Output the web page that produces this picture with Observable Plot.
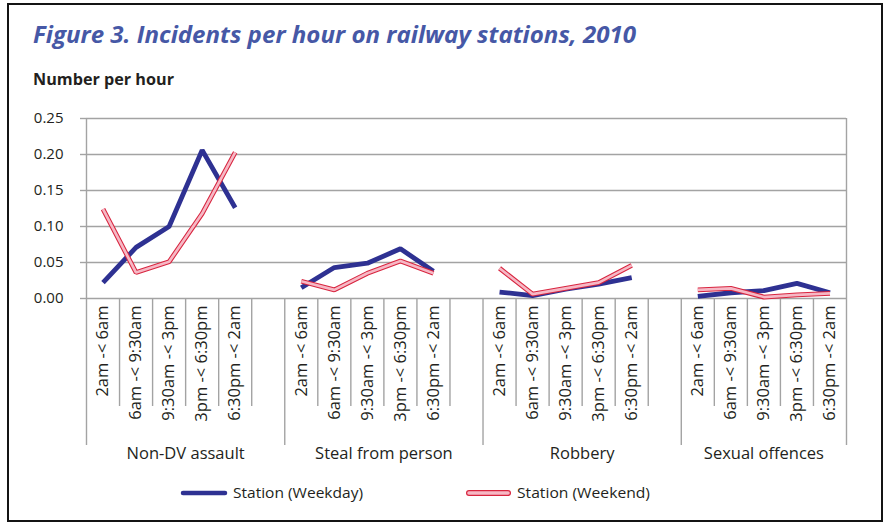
<!DOCTYPE html>
<html>
<head>
<meta charset="utf-8">
<script src="https://cdn.jsdelivr.net/npm/d3@7"></script>
<script src="https://cdn.jsdelivr.net/npm/@observablehq/plot@0.6"></script>
<style>
  html, body { margin: 0; padding: 0; background: #fff; }
  #page { position: relative; width: 886px; height: 524px; overflow: hidden; font-family: "Open Sans", sans-serif; color: #231f20; }
  #frame { position: absolute; left: 7px; top: 3px; width: 876px; height: 519px; box-sizing: border-box; border: 2.5px solid #141414; }
  .fit { position: absolute; white-space: nowrap; transform-origin: 0 50%; line-height: 1; }
  #title { left: 33px; top: 22px; font-size: 24px; font-weight: 700; font-style: italic; color: #4658a6; }
  #subtitle { left: 33px; top: 71px; font-size: 16px; font-weight: 700; }
  #chart { position: absolute; left: 0; top: 100px; }
  .lt { position: absolute; font-size: 15px; white-space: nowrap; line-height: 1; transform-origin: 0 50%; }
</style>
</head>
<body>
<div id="page">
  <div id="frame"></div>
  <div id="title" class="fit" data-w="603">Figure 3. Incidents per hour on railway stations, 2010</div>
  <div id="subtitle" class="fit" data-w="141">Number per hour</div>
  <div id="chart"></div>
  <svg style="position:absolute;left:0;top:480px" width="886" height="26">
    <line x1="183" x2="225" y1="13" y2="13" stroke="#2e3192" stroke-width="4.5" stroke-linecap="round"></line>
    <line x1="469" x2="508" y1="13" y2="13" stroke="#d8253f" stroke-width="6" stroke-linecap="round"></line>
    <line x1="469" x2="508" y1="13" y2="13" stroke="#f6b8c5" stroke-width="3.6" stroke-linecap="round"></line>
  </svg>
  <div id="leg1" class="lt fit" data-w="130" style="left:233px;top:485px">Station (Weekday)</div>
  <div id="leg2" class="lt fit" data-w="133" style="left:517px;top:485px">Station (Weekend)</div>
</div>
<script>
// ---- data ----
const groups = ["Non-DV assault", "Steal from person", "Robbery", "Sexual offences"];
const bands = ["2am -< 6am", "6am -< 9:30am", "9:30am -< 3pm", "3pm -< 6:30pm", "6:30pm -< 2am"];
const seriesNames = ["Station (Weekday)", "Station (Weekend)"];
const nonDVWeekday = [0.022, 0.071, 0.100, 0.206, 0.126];
const nonDVWeekend = [0.124, 0.036, 0.051, 0.118, 0.203];
const stealWeekday = [0.015, 0.043, 0.049, 0.069, 0.038];
const stealWeekend = [0.024, 0.012, 0.035, 0.052, 0.035];
const robberyWeekday = [0.009, 0.004, 0.013, 0.020, 0.029];
const robberyWeekend = [0.042, 0.006, 0.014, 0.022, 0.046];
const sexualWeekday = [0.003, 0.008, 0.011, 0.021, 0.008];
const sexualWeekend = [0.012, 0.014, 0.002, 0.005, 0.007];
const yTicks = [0, 0.05, 0.10, 0.15, 0.20, 0.25];

// ---- build table ----
const weekdayByGroup = [nonDVWeekday, stealWeekday, robberyWeekday, sexualWeekday];
const weekendByGroup = [nonDVWeekend, stealWeekend, robberyWeekend, sexualWeekend];
const slotsPerGroup = bands.length + 1;
const nSlots = groups.length * slotsPerGroup - 1;
const rows = [];
groups.forEach((g, gi) => {
  bands.forEach((b, bi) => {
    const slot = gi * slotsPerGroup + bi + 0.5;
    rows.push({group: g, band: b, slot, series: seriesNames[0], value: weekdayByGroup[gi][bi]});
    rows.push({group: g, band: b, slot, series: seriesNames[1], value: weekendByGroup[gi][bi]});
  });
});
const weekdayRows = rows.filter(d => d.series === seriesNames[0]);
const weekendRows = rows.filter(d => d.series === seriesNames[1]);
const groupLabels = groups.map((g, gi) => {
  const start = gi * slotsPerGroup;
  const end = Math.min(start + slotsPerGroup, nSlots);
  return {group: g, center: (start + end) / 2};
});
const outerBounds = [0, nSlots];
const groupBounds = groups.slice(1).map((g, gi) => (gi + 1) * slotsPerGroup);
const innerBounds = d3.range(nSlots + 1).filter(i => i % slotsPerGroup !== 0 && i !== nSlots);

const grid = "#a3a3a3";
const plot = Plot.plot({
  width: 886,
  height: 370,
  marginLeft: 86,
  marginRight: 40,
  marginTop: 18,
  marginBottom: 172,
  style: {fontFamily: "'Open Sans', sans-serif", fontSize: "15px", color: "#231f20", background: "transparent", overflow: "visible"},
  x: {type: "linear", domain: [0, nSlots], axis: null},
  y: {domain: [0, 0.25], axis: null, label: null},
  marks: [
    Plot.ruleY(yTicks, {stroke: grid, strokeWidth: 1.4}),
    Plot.axisY({ticks: yTicks, label: null, tickFormat: d3.format(".2f"), tickSize: 6, tickPadding: 17, stroke: grid, fill: "#231f20", strokeWidth: 1.4, fontSize: 15}),
    Plot.ruleX(outerBounds, {x: d => d, stroke: grid, strokeWidth: 1.4, insetBottom: -147}),
    Plot.ruleX(groupBounds, {x: d => d, stroke: grid, strokeWidth: 1.4, insetTop: 180, insetBottom: -147}),
    Plot.ruleX(innerBounds, {x: d => d, stroke: grid, strokeWidth: 1.4, insetTop: 180, insetBottom: -108}),
    Plot.line(weekdayRows, {x: "slot", y: "value", z: "group", stroke: "#2e3192", strokeWidth: 4.8, strokeLinecap: "butt", strokeLinejoin: "miter"}),
    Plot.line(weekendRows, {x: "slot", y: "value", z: "group", stroke: "#d8253f", strokeWidth: 4.8, strokeLinecap: "butt", strokeLinejoin: "miter"}),
    Plot.line(weekendRows, {x: "slot", y: "value", z: "group", stroke: "#f6b8c5", strokeWidth: 2.7, strokeLinecap: "butt", strokeLinejoin: "miter"}),
    Plot.text(weekdayRows, {x: "slot", text: "band", frameAnchor: "bottom", rotate: -90, textAnchor: "end", lineAnchor: "middle", dy: 7, fontSize: 16.5, fill: "#231f20"}),
    Plot.text(groupLabels, {x: "center", text: "group", frameAnchor: "bottom", dy: 160, fontSize: 16.5, fill: "#231f20"})
  ]
});
document.getElementById("chart").appendChild(plot);

// fit text widths to reference
document.querySelectorAll(".fit").forEach(el => {
  const target = +el.dataset.w;
  const w = el.getBoundingClientRect().width;
  if (w > 0) el.style.transform = `scaleX(${target / w})`;
});
</script>
</body>
</html>
